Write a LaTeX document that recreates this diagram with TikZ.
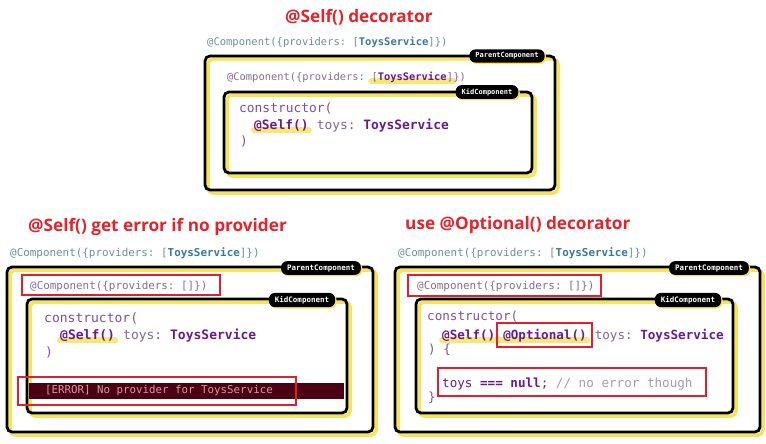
\documentclass[tikz,border=0pt]{standalone}
\usepackage{fontspec}
\setmainfont{Open Sans}
\setmonofont{DejaVu Sans Mono}
\usetikzlibrary{calc,backgrounds,shadows}
\definecolor{tred}{HTML}{E4232B}
\definecolor{boxred}{HTML}{E0202E}
\definecolor{ylw}{HTML}{F6E35C}
\definecolor{tealgray}{HTML}{6E9090}
\definecolor{tealblue}{HTML}{3A7898}
\definecolor{pgray}{HTML}{8A6A9C}
\definecolor{cpurp}{HTML}{7E509E}
\definecolor{dpurp}{HTML}{68189A}
\definecolor{tgray}{HTML}{7D6A8C}
\definecolor{cmt}{HTML}{A898B2}
\definecolor{errbg}{HTML}{4A0012}
\definecolor{errtx}{HTML}{D89AA4}
\newcommand\fs[1]{\fontsize{#1}{#1}\selectfont}
\newcommand\compbox[4]{%
  \fill[white,rounded corners=5pt] (#1,#2) rectangle (#3,#4);
  \draw[ylw,line width=3.5pt,rounded corners=5pt] (#1+3,#2+3) rectangle (#3+3,#4+3);
  \draw[black,line width=2.8pt,rounded corners=5pt] (#1,#2) rectangle (#3,#4);}
\tikzset{
  title/.style={font=\bfseries\fs{17.2}, text=tred, inner sep=0pt, anchor=west},
  code/.style={font=\ttfamily, inner sep=0pt, anchor=west},
  tag/.style={fill=black, text=white, rounded corners=6pt, inner xsep=6pt, inner ysep=3.3pt,
    font=\ttfamily\bfseries\fs{7},
    drop shadow={fill=ylw, opacity=1, shadow xshift=1.5pt, shadow yshift=-1.5pt}},
  redbox/.style={draw=boxred, line width=2pt},
  hl/.style={ylw, line width=6pt, opacity=.85, line cap=round},
}
\begin{document}
\begin{tikzpicture}[x=1pt,y=-1pt]
\useasboundingbox (0,0) rectangle (766,444);

% ================= TOP PANEL =================
\node[title] (t1) at (285,17) {@Self() decorator};
\node[code,font=\ttfamily\fs{10.5},text=tealgray] (o1) at (207,42)
  {@Component(\{providers: [{\bfseries\color{tealblue}ToysService}]\})};
\begin{scope}[on background layer]
  \compbox{205}{56}{555}{190}
  \compbox{224}{92}{532}{173}
\end{scope}
\node[tag] (p1) at (507,56) {ParentComponent};
\node[tag] (k1) at (487,92) {KidComponent};
\node[code,font=\ttfamily\fs{10.4},text=pgray] (i1a) at (227,78) {@Component(\{providers:\phantom{x}};
\node[code,font=\ttfamily\fs{10.4},text=pgray,anchor=base west] (i1b) at (i1a.base east) {[{\bfseries\color{dpurp}ToysService}]};
\node[code,font=\ttfamily\fs{10.4},text=pgray,anchor=base west] (i1c) at (i1b.base east) {\})};
\node[code,font=\ttfamily\fs{12.9},text=cpurp] (c1) at (239,108) {constructor(};
\node[code,font=\ttfamily\bfseries\fs{12.9},text=dpurp] (s1) at (254,126) {@Self()};
\node[code,font=\ttfamily\fs{12.9},text=tgray,anchor=base west] (r1) at ($(s1.base east)+(7.8,0)$) {toys: {\bfseries\color{dpurp}ToysService}};
\node[code,font=\ttfamily\fs{12.9},text=cpurp] (e1) at (240,141) {)};
\begin{scope}[on background layer]
  \draw[hl] ($(i1b.base west)+(0,0.5)$) -- ($(i1b.base east)+(0,0.5)$);
  \draw[hl] ($(s1.base west)+(0,0.5)$) -- ($(s1.base east)+(0,0.5)$);
\end{scope}

% ================= BOTTOM LEFT =================
\node[title] (t2) at (28,227) {@Self() get error if no provider};
\node[code,font=\ttfamily\fs{10.9},text=tealgray] (o2) at (10,253)
  {@Component(\{providers: [{\bfseries\color{tealblue}ToysService}]\})};
\begin{scope}[on background layer]
  \compbox{7}{267}{373}{432}
  \compbox{27}{299}{347}{413}
\end{scope}
\node[tag,font=\ttfamily\bfseries\fs{7.5}] (p2) at (321,268) {ParentComponent};
\node[tag,font=\ttfamily\bfseries\fs{7.5}] (k2) at (302,300) {KidComponent};
\node[code,font=\ttfamily\fs{10.9},text=pgray] (i2) at (30,286) {@Component(\{providers: []\})};
\draw[redbox] (22,275) rectangle (220,295);
\node[code,font=\ttfamily\fs{13},text=cpurp] (c2) at (44,318) {constructor(};
\node[code,font=\ttfamily\bfseries\fs{13},text=dpurp] (s2) at (60,336) {@Self()};
\node[code,font=\ttfamily\fs{13},text=tgray,anchor=base west] (r2) at ($(s2.base east)+(7.8,0)$) {toys: {\bfseries\color{dpurp}ToysService}};
\node[code,font=\ttfamily\fs{13},text=cpurp] (e2) at (45,352) {)};
\begin{scope}[on background layer]
  \draw[hl] ($(s2.base west)+(0,0.5)$) -- ($(s2.base east)+(0,0.5)$);
\end{scope}
\fill[errbg] (28.5,383) rectangle (344,399);
\node[code,font=\ttfamily\fs{10.8},text=errtx] (err) at (45,391) {[ERROR] No provider for ToysService};
\draw[redbox] (18,377) rectangle (296,405);

% ================= BOTTOM RIGHT =================
\node[title] (t3) at (405,225) {use @Optional() decorator};
\node[code,font=\ttfamily\fs{10.9},text=tealgray] (o3) at (398,253)
  {@Component(\{providers: [{\bfseries\color{tealblue}ToysService}]\})};
\begin{scope}[on background layer]
  \compbox{395}{267}{760}{432}
  \compbox{416}{299}{733}{413}
\end{scope}
\node[tag,font=\ttfamily\bfseries\fs{7.5}] (p3) at (709,268) {ParentComponent};
\node[tag,font=\ttfamily\bfseries\fs{7.5}] (k3) at (688,300) {KidComponent};
\node[code,font=\ttfamily\fs{10.9},text=pgray] (i3) at (417,286) {@Component(\{providers: []\})};
\draw[redbox] (408,275) rectangle (601,296);
\node[code,font=\ttfamily\fs{12.6},text=cpurp] (c3) at (427,317) {constructor(};
\node[code,font=\ttfamily\bfseries\fs{12.6},text=dpurp] (s3) at (442,336) {@Self()};
\node[code,font=\ttfamily\bfseries\fs{12.6},text=dpurp,anchor=base west] (op3) at ($(s3.base east)+(7.6,0)$) {@Optional()};
\node[code,font=\ttfamily\fs{12.6},text=tgray,anchor=base west] (r3) at ($(op3.base east)+(7.6,0)$) {toys: {\bfseries\color{dpurp}ToysService}};
\node[code,font=\ttfamily\fs{12.6},text=cpurp] (e3) at (428,350) {) \{};
\node[code,font=\ttfamily\fs{12.6},text=dpurp] (n3) at (442,384) {toys {\bfseries ===} {\bfseries null}; {\color{cmt}// no error though}};
\node[code,font=\ttfamily\fs{12.6},text=cpurp] (b3) at (428,398) {\}};
\begin{scope}[on background layer]
  \draw[hl] ($(s3.base west)+(0,0.5)$) -- ($(op3.base east)+(0,0.5)$);
\end{scope}
\draw[redbox] (497,323) rectangle (592,347);
\draw[redbox] (438,368) rectangle (706,396);
\end{tikzpicture}
\end{document}
